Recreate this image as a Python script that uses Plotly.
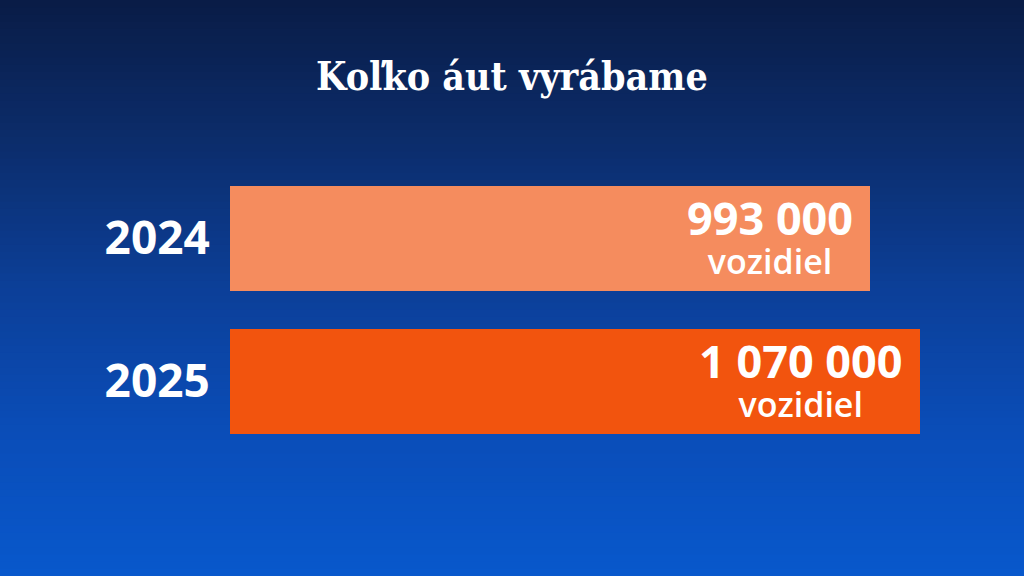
import plotly.graph_objects as go

years = ["2024", "2025"]
values = [993000, 1070000]
value_labels = ["993 000", "1 070 000"]
unit_label = "vozidiel"
bar_colors = ["#F58C5E", "#F2540E"]
title_text = "Koľko áut vyrábame"

W, H = 1024, 576

fig = go.Figure()
fig.add_trace(go.Bar(
    y=years, x=values, orientation="h",
    marker=dict(color=bar_colors, line=dict(width=0)),
    width=0.74, hoverinfo="skip", showlegend=False,
))

# value annotations inside bars
for i, (v, lab) in enumerate(zip(values, value_labels)):
    fig.add_annotation(
        x=v, y=i, xref="x", yref="y",
        xanchor="right", yanchor="middle", xshift=-15, yshift=3,
        align="center", showarrow=False,
        text=(f"<span style='font-size:45px;font-weight:bold'>{lab}</span><br>"
              f"<span style='font-size:34px;font-weight:600'>{unit_label}</span>"),
        font=dict(family="Open Sans", size=30, color="white"),
    )

fig.add_annotation(
    x=0.5, y=1 - 76 / H, xref="paper", yref="paper",
    xanchor="center", yanchor="middle", showarrow=False,
    text=f"<b>{title_text}</b>",
    font=dict(family="DejaVu Serif Condensed", size=39, color="white"),
)

# vertical gradient background (style only)
stops = [(0.0, (9, 28, 70)), (0.25, (12, 45, 108)), (0.5, (12, 63, 152)),
         (0.75, (10, 77, 184)), (1.0, (8, 88, 204))]
n = 80
def col(t):
    for (t0, c0), (t1, c1) in zip(stops[:-1], stops[1:]):
        if t0 <= t <= t1:
            f = (t - t0) / (t1 - t0)
            return "rgb(%d,%d,%d)" % tuple(round(a + (b - a) * f) for a, b in zip(c0, c1))
    return "rgb(%d,%d,%d)" % stops[-1][1]
shapes = []
for i in range(n):
    t = (i + 0.5) / n
    shapes.append(dict(type="rect", xref="paper", yref="paper", x0=0, x1=1,
                       y0=1 - (i + 1) / n - 0.002, y1=1 - i / n,
                       fillcolor=col(t), line=dict(width=0), layer="below"))

fig.update_layout(
    width=W, height=H,
    margin=dict(l=0, r=0, t=0, b=0),
    paper_bgcolor="rgb(10,50,120)",
    plot_bgcolor="rgba(0,0,0,0)",
    shapes=shapes,
    bargap=0,
    xaxis=dict(domain=[230 / W, 920 / W], range=[0, 1070000], visible=False, fixedrange=True),
    yaxis=dict(domain=[1 - 452.5 / H, 1 - 166.5 / H], range=[1.5, -0.5], type="category",
               showgrid=False, zeroline=False, showline=False,
               ticks="outside", ticklen=10, tickcolor="rgba(0,0,0,0)",
               tickfont=dict(family="Open Sans", size=46, color="white", weight="bold"),
               fixedrange=True),
)

fig.write_html("out.html", config={"displayModeBar": False},
               post_script="document.body.style.margin='0';document.body.style.overflow='hidden';")
